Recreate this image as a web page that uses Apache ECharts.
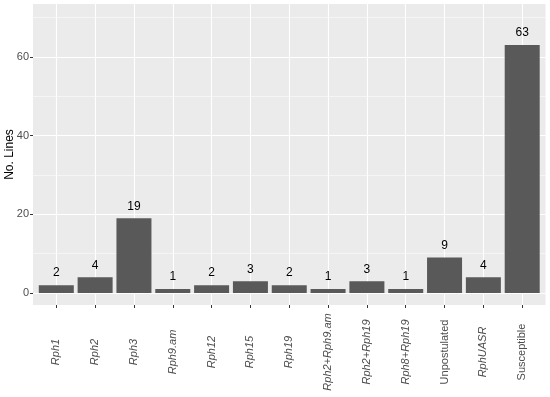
<!DOCTYPE html>
<html>
<head>
<meta charset="utf-8">
<script src="https://cdn.jsdelivr.net/npm/echarts@6/dist/echarts.min.js"></script>
<style>html,body{margin:0;padding:0;background:#fff}#c{width:550px;height:397px}</style>
</head>
<body>
<div id="c"></div>
<script>
var categories = ['Rph1','Rph2','Rph3','Rph9.am','Rph12','Rph15','Rph19','Rph2+Rph9.am','Rph2+Rph19','Rph8+Rph19','Unpostulated','RphUASR','Susceptible'];
var italicCats = [true,true,true,true,true,true,true,true,true,true,false,true,false];
var counts = [2,4,19,1,2,3,2,1,3,1,9,4,63];
var yMajorTicks = [0,20,40,60];
var yMinorTicks = [10,30,50,70];
var catIndex = categories.map(function(_, i){ return i; });

var chart = echarts.init(document.getElementById('c'), null, {renderer:'canvas'});
var FONT = 'Liberation Sans, Arial, sans-serif';
chart.setOption({
  animation:false,
  backgroundColor:'#ffffff',
  grid:{left:33, right:4.5, top:4, bottom:92, show:true, backgroundColor:'#EBEBEB', borderWidth:0, containLabel:false, outerBoundsMode:'none'},
  xAxis:{
    type:'value', min:-0.6, max:12.6, position:'bottom',
    axisLine:{show:false, onZero:false},
    axisTick:{show:true, length:3, lineStyle:{color:'#333333', width:1}, customValues:catIndex},
    splitLine:{show:true, lineStyle:{color:'#ffffff', width:1.1}},
    axisLabel:{
      customValues:catIndex, rotate:90, align:'center', verticalAlign:'middle', margin:47,
      fontFamily:FONT, fontSize:11, color:'#4D4D4D',
      formatter:function(v){ var i=Math.round(v); return italicCats[i] ? '{i|'+categories[i]+'}' : '{n|'+categories[i]+'}'; },
      rich:{ i:{fontStyle:'italic', fontFamily:FONT, fontSize:11, color:'#4D4D4D'}, n:{fontFamily:FONT, fontSize:11, color:'#4D4D4D'} }
    }
  },
  yAxis:[{
    type:'value', min:-3.04, max:73.4, position:'left',
    name:'No. Lines', nameLocation:'middle', nameGap:17, nameRotate:90, nameMoveOverlap:false,
    nameTextStyle:{fontFamily:FONT, fontSize:12, color:'#000000'},
    axisLine:{show:false, onZero:false},
    axisTick:{show:true, length:3, lineStyle:{color:'#333333'}, customValues:yMajorTicks},
    axisLabel:{customValues:yMajorTicks, fontFamily:FONT, fontSize:11, color:'#4D4D4D', margin:4},
    splitLine:{show:true, lineStyle:{color:'#ffffff', width:1.1}}
  },{
    type:'value', min:-3.04, max:73.4, position:'left',
    axisLine:{show:false, onZero:false}, axisLabel:{show:false},
    axisTick:{show:false, customValues:yMinorTicks},
    splitLine:{show:true, lineStyle:{color:'#ffffff', width:0.5}}
  }],
  series:[{
    type:'bar',
    data:counts.map(function(v,i){ return [i, v]; }),
    barWidth:35,
    itemStyle:{color:'#595959'},
    label:{show:true, position:'top', distance:6, fontFamily:FONT, fontSize:12, color:'#000000'}
  }]
});
</script>
</body>
</html>
